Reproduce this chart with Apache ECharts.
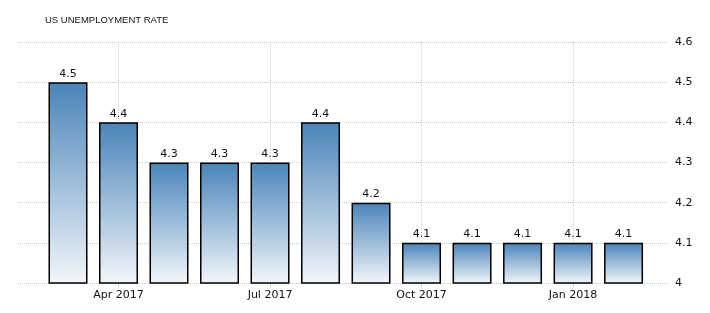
<!DOCTYPE html>
<html><head><meta charset="utf-8">
<script src="https://cdn.jsdelivr.net/npm/echarts@6/dist/echarts.min.js"></script>
<style>html,body{margin:0;padding:0;background:#fff}#c{width:710px;height:313px}</style>
</head><body><div id="c"></div>
<script>
const months = ['Mar 2017','Apr 2017','May 2017','Jun 2017','Jul 2017','Aug 2017','Sep 2017','Oct 2017','Nov 2017','Dec 2017','Jan 2018','Feb 2018'];
const rates = [4.5, 4.4, 4.3, 4.3, 4.3, 4.4, 4.2, 4.1, 4.1, 4.1, 4.1, 4.1];
const tickLabels = ['Apr 2017','Jul 2017','Oct 2017','Jan 2018'];
const yTicks = [4, 4.1, 4.2, 4.3, 4.4, 4.5, 4.6];

// x position: month index shifted so that 'Apr 2017' is 0
const pos = months.map((m, i) => i - 1);
const tickPos = tickLabels.map(t => months.indexOf(t) - 1);
const FONT = 'DejaVu Sans';

const chart = echarts.init(document.getElementById('c'));
chart.setOption({
  animation: false,
  title: {
    text: 'US UNEMPLOYMENT RATE', left: 40, top: 10,
    textStyle: { fontFamily: 'Liberation Sans', fontSize: 9.5, fontWeight: 'normal', color: '#111' }
  },
  grid: { left: 18, right: 42, top: 42, bottom: 30 },
  xAxis: {
    type: 'value', min: -1.99, max: 10.88,
    axisLine: { show: false },
    axisTick: { show: true, customValues: tickPos, length: 4, lineStyle: { color: '#ccc' } },
    axisLabel: {
      customValues: tickPos, margin: 7, color: '#111', fontFamily: FONT, fontSize: 11,
      formatter: v => months[Math.round(v) + 1] || ''
    },
    splitLine: { show: true, lineStyle: { color: '#ccc', type: 'dotted' } }
  },
  yAxis: {
    type: 'value', position: 'right', min: yTicks[0], max: yTicks[yTicks.length - 1], interval: 0.1,
    axisLine: { show: false }, axisTick: { show: false },
    axisLabel: { margin: 7, color: '#111', fontFamily: FONT, fontSize: 11, formatter: v => String(+v.toFixed(1)) },
    splitLine: { show: true, lineStyle: { color: '#ccc', type: 'dotted' } }
  },
  series: [{
    type: 'bar', barWidth: 39,
    data: rates.map((v, i) => [pos[i], v]),
    itemStyle: {
      borderColor: '#000', borderWidth: 1.5,
      color: new echarts.graphic.LinearGradient(0, 0, 0, 1, [
        { offset: 0, color: '#4a84b9' }, { offset: 1, color: '#f3f6fa' }
      ])
    },
    label: {
      show: true, position: 'top', distance: 3, color: '#111', fontFamily: FONT, fontSize: 11,
      formatter: p => p.value[1].toFixed(1)
    }
  }]
});
</script></body></html>
